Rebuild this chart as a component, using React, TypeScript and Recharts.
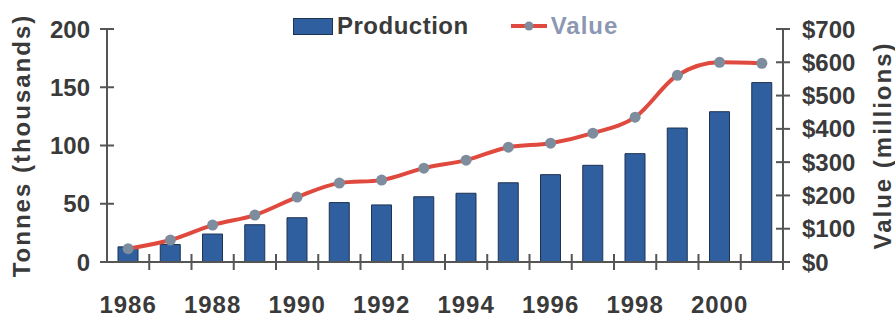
import { ComposedChart, Bar, Line, XAxis, YAxis, Legend, Label } from 'recharts';

const years = [
  '1986', '1987', '1988', '1989', '1990', '1991', '1992', '1993',
  '1994', '1995', '1996', '1997', '1998', '1999', '2000', '2001',
];
// tonnes (thousands)
const production = [13, 15, 24, 32, 38, 51, 49, 56, 59, 68, 75, 83, 93, 115, 129, 154];
// $ millions
const value = [40, 66, 111, 141, 195, 237, 246, 282, 306, 345, 357, 387, 435, 561, 600, 597];
const tonnesTicks = [0, 50, 100, 150, 200];
const valueTicks = [0, 100, 200, 300, 400, 500, 600, 700];

const data = years.map((year, i) => ({ year, production: production[i], value: value[i] }));

const FONT = '"Liberation Sans", Arial, Helvetica, sans-serif';
const TEXT = '#3a3a3a';
const AXIS = '#555555';
const BAR = '#2f5f9f';
const BAR_EDGE = '#1f3352';
const LINE = '#e04a3e';
const DOT = '#7d8d9d';
const FS = 24;

function YearTick(props: any) {
  const { x, y, payload, index } = props;
  const half = payload.offset ?? 0;
  return (
    <g>
      <line x1={x + half} x2={x + half} y1={y - 8} y2={y + 8} stroke={AXIS} strokeWidth={2} />
      {index % 2 === 0 && (
        <text x={x} y={y + 42} dy="0.355em" textAnchor="middle" fill={TEXT}
          fontFamily={FONT} fontSize={FS} fontWeight={700} letterSpacing={1}>
          {payload.value}
        </text>
      )}
    </g>
  );
}

function TonnesTick(props: any) {
  const { x, y, payload } = props;
  return (
    <g>
      <line x1={x - 7} x2={x + 7} y1={y} y2={y} stroke={AXIS} strokeWidth={2} />
      <text x={x - 17} y={y} dy="0.355em" textAnchor="end" fill={TEXT}
        fontFamily={FONT} fontSize={FS} fontWeight={700}>
        {payload.value}
      </text>
    </g>
  );
}

function ValueTick(props: any) {
  const { x, y, payload } = props;
  return (
    <g>
      <line x1={x - 7} x2={x + 7} y1={y} y2={y} stroke={AXIS} strokeWidth={2} />
      <text x={x + 19} y={y} dy="0.355em" textAnchor="start" fill={TEXT}
        fontFamily={FONT} fontSize={FS} fontWeight={700}>
        {`$${payload.value}`}
      </text>
    </g>
  );
}

function renderLegend() {
  return (
    <div style={{ display: 'flex', alignItems: 'center', fontFamily: FONT, fontSize: FS, fontWeight: 700, lineHeight: '28px' }}>
      <span style={{ display: 'inline-block', width: 38, height: 15, background: BAR, border: `1px solid ${BAR_EDGE}` }} />
      <span style={{ marginLeft: 4, color: TEXT, letterSpacing: 0.5 }}>Production</span>
      <svg width={36} height={14} style={{ marginLeft: 42 }}>
        <line x1={0} x2={36} y1={7} y2={7} stroke={LINE} strokeWidth={4} />
        <circle cx={18} cy={7} r={4.5} fill={DOT} />
      </svg>
      <span style={{ marginLeft: 4, color: '#8c98b3', letterSpacing: 1 }}>Value</span>
    </div>
  );
}

export default function App() {
  return (
    <div style={{ position: 'absolute', left: 0, top: 0, width: 895, height: 317, background: '#fff' }}>
      <ComposedChart width={895} height={317} data={data} margin={{ top: 29, right: 0, bottom: 0, left: 0 }}>
        <XAxis
          dataKey="year"
          xAxisId="x"
          height={55}
          interval={0}
          tickSize={0}
          tickMargin={0}
          tickLine={false}
          axisLine={{ stroke: AXIS, strokeWidth: 2 }}
          tick={<YearTick />}
        />
        <YAxis
          yAxisId="left"
          orientation="left"
          width={107}
          domain={[0, 200]}
          ticks={tonnesTicks}
          tickSize={0}
          tickMargin={0}
          tickLine={false}
          axisLine={{ stroke: AXIS, strokeWidth: 2 }}
          tick={<TonnesTick />}
        >
          <Label
            content={({ viewBox }: any) => (
              <text
                transform={`translate(${viewBox.x + 21},${viewBox.y + viewBox.height / 2}) rotate(-90)`}
                textAnchor="middle" dominantBaseline="central" fill={TEXT}
                fontFamily={FONT} fontSize={FS} fontWeight={700} letterSpacing={2}
              >
                Tonnes (thousands)
              </text>
            )}
          />
        </YAxis>
        <YAxis
          yAxisId="right"
          orientation="right"
          width={112}
          domain={[0, 700]}
          ticks={valueTicks}
          tickSize={0}
          tickMargin={0}
          tickLine={false}
          axisLine={{ stroke: AXIS, strokeWidth: 2 }}
          tick={<ValueTick />}
        >
          <Label
            content={({ viewBox }: any) => (
              <text
                transform={`translate(${viewBox.x + 99},${viewBox.y + viewBox.height / 2}) rotate(-90)`}
                textAnchor="middle" dominantBaseline="central" fill={TEXT}
                fontFamily={FONT} fontSize={FS} fontWeight={700} letterSpacing={2}
              >
                Value (millions)
              </text>
            )}
          />
        </YAxis>
        <Legend
          verticalAlign="middle"
          align="center"
          content={renderLegend}
          wrapperStyle={{ top: 12, left: 293, width: 'auto' }}
        />
        <Bar
          xAxisId="x"
          yAxisId="left"
          dataKey="production"
          name="Production"
          barSize={20}
          fill={BAR}
          stroke={BAR_EDGE}
          strokeWidth={1}
          isAnimationActive={false}
        />
        <Line
          xAxisId="x"
          yAxisId="right"
          type="monotone"
          dataKey="value"
          name="Value"
          stroke={LINE}
          strokeWidth={4}
          dot={{ r: 5.5, fill: DOT, stroke: DOT, strokeWidth: 0 }}
          activeDot={false}
          isAnimationActive={false}
        />
      </ComposedChart>
    </div>
  );
}
